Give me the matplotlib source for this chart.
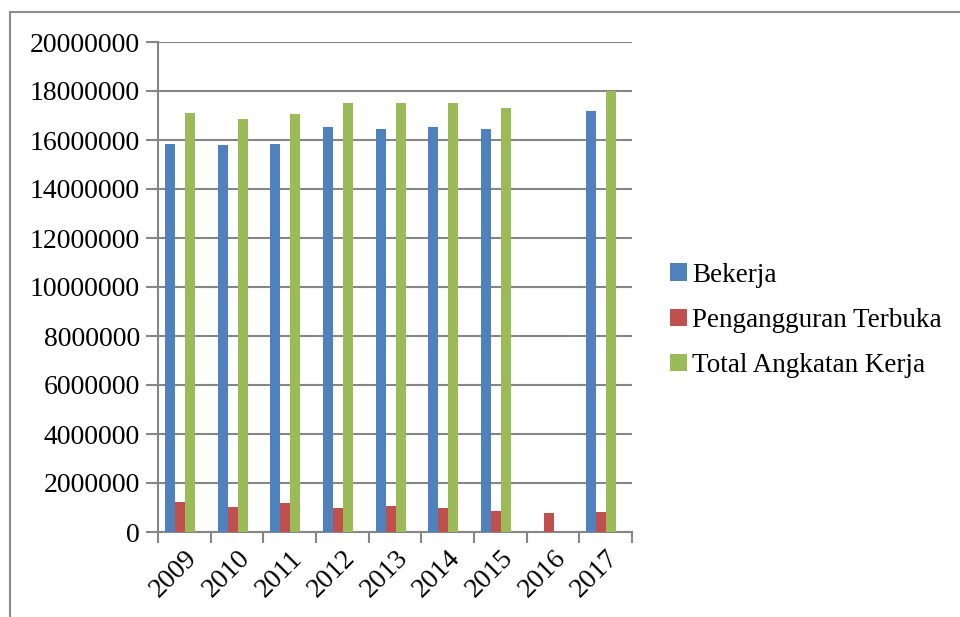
import matplotlib.pyplot as plt
import numpy as np
from matplotlib.lines import Line2D

# Data
years = ['2009', '2010', '2011', '2012', '2013', '2014', '2015', '2016', '2017']
bekerja = [15840000, 15810000, 15840000, 16530000, 16460000, 16530000, 16440000, 0, 17200000]
pengangguran = [1240000, 1030000, 1180000, 980000, 1060000, 980000, 860000, 790000, 820000]
total = [17090000, 16860000, 17050000, 17500000, 17530000, 17520000, 17290000, 0, 18000000]

plt.rcParams['font.family'] = ['Liberation Serif', 'DejaVu Serif']
grid_color = '#868686'

fig = plt.figure(figsize=(9.6, 6.17), dpi=100)
ax = fig.add_axes([158/960, 1-532/617, (632-158)/960, (532-42)/617])

x = np.arange(len(years))
w = 0.19
shift = -0.08
ax.bar(x + shift - w, bekerja, w, color='#4f81bd', label='Bekerja', zorder=3)
ax.bar(x + shift, pengangguran, w, color='#c0504d', label='Pengangguran Terbuka', zorder=3)
ax.bar(x + shift + w, total, w, color='#9bbb59', label='Total Angkatan Kerja', zorder=3)

ax.set_xlim(-0.5, len(years) - 0.5)
ax.set_ylim(0, 20000000)
ax.set_yticks(np.arange(0, 20000001, 2000000))
ax.set_yticklabels([str(v) for v in range(0, 20000001, 2000000)], fontsize=20)
ax.yaxis.grid(True, color=grid_color, linewidth=1.5, zorder=0)

# category boundary ticks on x, labels at centres
ax.set_xticks(np.arange(-0.5, len(years)), minor=False)
ax.set_xticklabels([])
ax.set_xticks(x, minor=True)
ax.set_xticklabels(years, minor=True, rotation=45, ha='right', va='top',
                   rotation_mode='anchor', fontsize=20)
ax.tick_params(axis='x', which='minor', length=0, pad=10)
ax.tick_params(axis='x', which='major', length=8, width=1.5, color=grid_color)
ax.tick_params(axis='y', length=9, width=1.5, color=grid_color, pad=4)

for s in ['top', 'right']:
    ax.spines[s].set_visible(False)
for s in ['left', 'bottom']:
    ax.spines[s].set_color(grid_color)
    ax.spines[s].set_linewidth(1.5)

ax.legend(loc='center left', bbox_to_anchor=(1.058, 0.432), frameon=False,
          fontsize=19.5, handlelength=0.6, handleheight=0.6, handletextpad=0.2,
          labelspacing=0.75, borderaxespad=0)

# outer chart border
fig.add_artist(Line2D([10/960, 10/960], [0, 1-12/617], color='#8c8c8c', linewidth=1.5))
fig.add_artist(Line2D([10/960, 1], [1-12/617, 1-12/617], color='#8c8c8c', linewidth=1.5))

fig.savefig('out.png', dpi=100)
